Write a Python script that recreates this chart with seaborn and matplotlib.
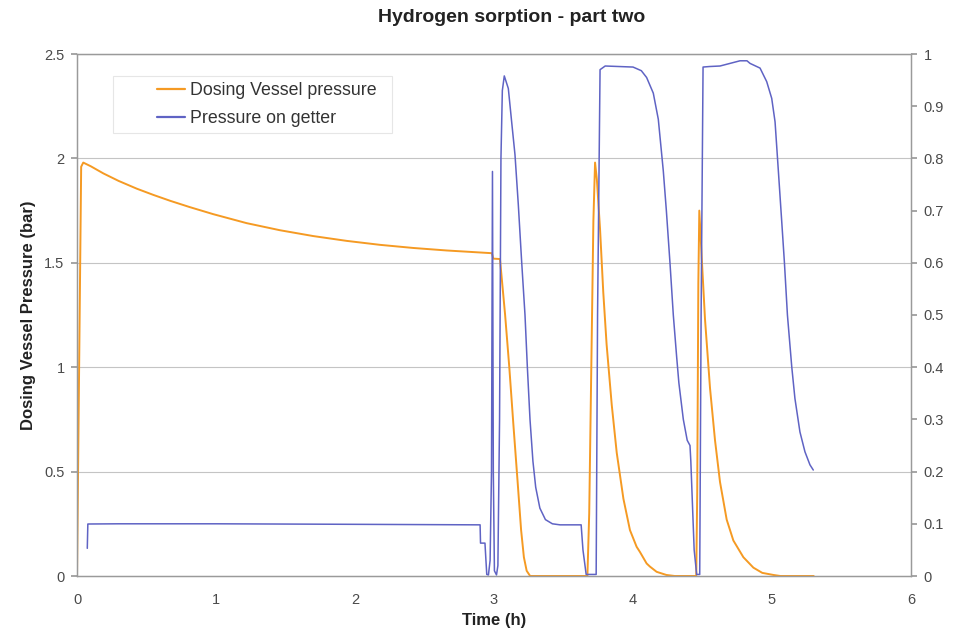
import matplotlib
matplotlib.use("Agg")
import matplotlib.pyplot as plt
from matplotlib.lines import Line2D
from matplotlib.patches import Rectangle
import seaborn as sns
import pandas as pd

# ---- data ----
time_vessel = [0.000, 0.030, 0.045, 0.100, 0.190, 0.300, 0.430, 0.550, 0.670, 0.810,
               0.980, 1.220, 1.460, 1.700, 1.940, 2.180, 2.420, 2.660, 2.985, 2.995,
               3.043, 3.080, 3.110, 3.140, 3.170, 3.195, 3.215, 3.235, 3.260, 3.500,
               3.672, 3.685, 3.700, 3.715, 3.727, 3.740, 3.763, 3.786, 3.810, 3.847,
               3.883, 3.931, 3.978, 4.026, 4.050, 4.098, 4.122, 4.170, 4.240, 4.300,
               4.455, 4.462, 4.470, 4.477, 4.494, 4.518, 4.554, 4.590, 4.626, 4.674,
               4.722, 4.794, 4.866, 4.930, 5.010, 5.060, 5.300]
p_vessel = [0.00, 1.96, 1.98, 1.962, 1.928, 1.892, 1.855, 1.825, 1.797, 1.767,
            1.733, 1.690, 1.656, 1.628, 1.605, 1.586, 1.571, 1.559, 1.546, 1.52,
            1.518, 1.25, 1.00, 0.72, 0.45, 0.22, 0.09, 0.025, 0.00, 0.00,
            0.00, 0.30, 1.00, 1.70, 1.98, 1.90, 1.66, 1.36, 1.11, 0.82,
            0.59, 0.37, 0.22, 0.14, 0.115, 0.06, 0.045, 0.02, 0.005, 0.00,
            0.00, 0.40, 1.40, 1.75, 1.53, 1.23, 0.90, 0.65, 0.45, 0.27,
            0.17, 0.09, 0.04, 0.015, 0.005, 0.00, 0.00]

time_getter = [0.074, 0.078, 0.300, 1.000, 2.000, 2.900, 2.903, 2.935, 2.942, 2.948,
               2.960, 2.972, 2.982, 2.989, 2.995, 3.003, 3.018, 3.028, 3.040, 3.050,
               3.060, 3.074, 3.103, 3.127, 3.151, 3.175, 3.199, 3.223, 3.240, 3.259,
               3.280, 3.300, 3.330, 3.370, 3.420, 3.475, 3.627, 3.640, 3.663, 3.735,
               3.745, 3.763, 3.800, 3.900, 4.000, 4.026, 4.060, 4.098, 4.146, 4.182,
               4.218, 4.240, 4.266, 4.290, 4.314, 4.330, 4.362, 4.390, 4.410, 4.416,
               4.440, 4.458, 4.480, 4.490, 4.504, 4.550, 4.626, 4.698, 4.770, 4.820,
               4.842, 4.914, 4.962, 4.998, 5.022, 5.046, 5.070, 5.089, 5.111, 5.142,
               5.165, 5.201, 5.237, 5.273, 5.297]
p_getter = [0.053, 0.0996, 0.100, 0.100, 0.099, 0.098, 0.063, 0.063, 0.030, 0.003,
            0.002, 0.030, 0.200, 0.775, 0.200, 0.010, 0.002, 0.020, 0.300, 0.800,
            0.930, 0.958, 0.934, 0.870, 0.807, 0.711, 0.602, 0.500, 0.400, 0.300,
            0.220, 0.170, 0.130, 0.108, 0.100, 0.098, 0.098, 0.050, 0.003, 0.003,
            0.500, 0.970, 0.977, 0.976, 0.975, 0.972, 0.968, 0.955, 0.925, 0.875,
            0.776, 0.700, 0.600, 0.500, 0.420, 0.370, 0.300, 0.260, 0.250, 0.220,
            0.050, 0.003, 0.003, 0.500, 0.975, 0.976, 0.977, 0.982, 0.987, 0.987,
            0.982, 0.973, 0.947, 0.915, 0.870, 0.775, 0.679, 0.602, 0.500, 0.401,
            0.340, 0.276, 0.238, 0.213, 0.203]

left_ticks = [0, 0.5, 1, 1.5, 2, 2.5]
left_tick_labels = ["0", "0.5", "1", "1.5", "2", "2.5"]
right_ticks = [0, 0.1, 0.2, 0.3, 0.4, 0.5, 0.6, 0.7, 0.8, 0.9, 1.0]
right_tick_labels = ["0", "0.1", "0.2", "0.3", "0.4", "0.5", "0.6", "0.7", "0.8", "0.9", "1"]
x_ticks = [0, 1, 2, 3, 4, 5, 6]

series_names = ["Dosing Vessel pressure", "Pressure on getter"]
title = "Hydrogen sorption - part two"
x_label = "Time (h)"
y_label = "Dosing Vessel Pressure (bar)"

ORANGE = "#F59A23"
BLUE = "#5F63C4"
GRID = "#C4C4C4"
SPINE = "#9A9A9A"
TXT = "#4A4A4A"

sns.set_theme(style="white")
plt.rcParams["font.family"] = ["Liberation Sans", "DejaVu Sans"]

df_v = pd.DataFrame({"t": time_vessel, "p": p_vessel})
df_g = pd.DataFrame({"t": time_getter, "p": p_getter})

W, H = 957, 634
fig = plt.figure(figsize=(W / 100, H / 100), dpi=100)
ax = fig.add_axes([77 / W, 1 - 576 / H, (911 - 77) / W, (576 - 54) / H])
ax2 = ax.twinx()

sns.lineplot(data=df_v, x="t", y="p", ax=ax, color=ORANGE, linewidth=1.4,
             estimator=None, sort=False)
sns.lineplot(data=df_g, x="t", y="p", ax=ax2, color=BLUE, linewidth=1.1,
             estimator=None, sort=False)

ax.set_xlim(0, 6)
ax.set_ylim(0, 2.5)
ax2.set_ylim(0, 1)
ax.set_xticks(x_ticks)
ax.set_xticklabels([str(v) for v in x_ticks])
ax.set_yticks(left_ticks)
ax.set_yticklabels(left_tick_labels)
ax2.set_yticks(right_ticks)
ax2.set_yticklabels(right_tick_labels)

for y in left_ticks[1:]:
    ax.axhline(y, color=GRID, linewidth=0.8, zorder=0)

for a in (ax, ax2):
    for s in a.spines.values():
        s.set_color(SPINE)
        s.set_linewidth(0.9)
ax.tick_params(axis="both", which="major", direction="out", length=4,
               color=SPINE, labelsize=10.5, labelcolor=TXT, pad=5)
ax2.tick_params(axis="y", which="major", direction="out", length=4,
                color=SPINE, labelsize=10.5, labelcolor=TXT, pad=5)
ax.tick_params(axis="x", pad=8)

ax.set_xlabel(x_label, fontsize=12, fontweight="bold", color="#222222")
ax.set_ylabel(y_label, fontsize=12, fontweight="bold", color="#222222")
ax.xaxis.set_label_coords(0.5, (576 - 613) / 522)
ax.yaxis.set_label_coords((36 - 77) / 834, 0.5)
ax2.set_ylabel("")

fig.text(512 / W, 1 - 18 / H, title, ha="center", va="center",
         fontsize=14, fontweight="bold", color="#222222")

# legend: faint frame + entries (both at figure level, frame below entries)
fig.add_artist(Rectangle((113 / W, 1 - 133 / H), (392 - 113) / W, (133 - 76) / H,
                         transform=fig.transFigure, facecolor="white",
                         edgecolor="#E6E6E6", linewidth=0.8, zorder=4))
handles = [Line2D([0], [0], color=ORANGE, linewidth=1.6),
           Line2D([0], [0], color=BLUE, linewidth=1.6)]
leg = fig.legend(handles, series_names, loc="upper left",
                 bbox_to_anchor=(157 / W, 1 - 82 / H), bbox_transform=fig.transFigure,
                 frameon=False, fontsize=12.8,
                 handlelength=1.57, handletextpad=0.28, labelspacing=0.62,
                 borderpad=0, borderaxespad=0)
leg.set_zorder(6)
for t in leg.get_texts():
    t.set_color("#333333")

fig.savefig("out.png", dpi=100)
